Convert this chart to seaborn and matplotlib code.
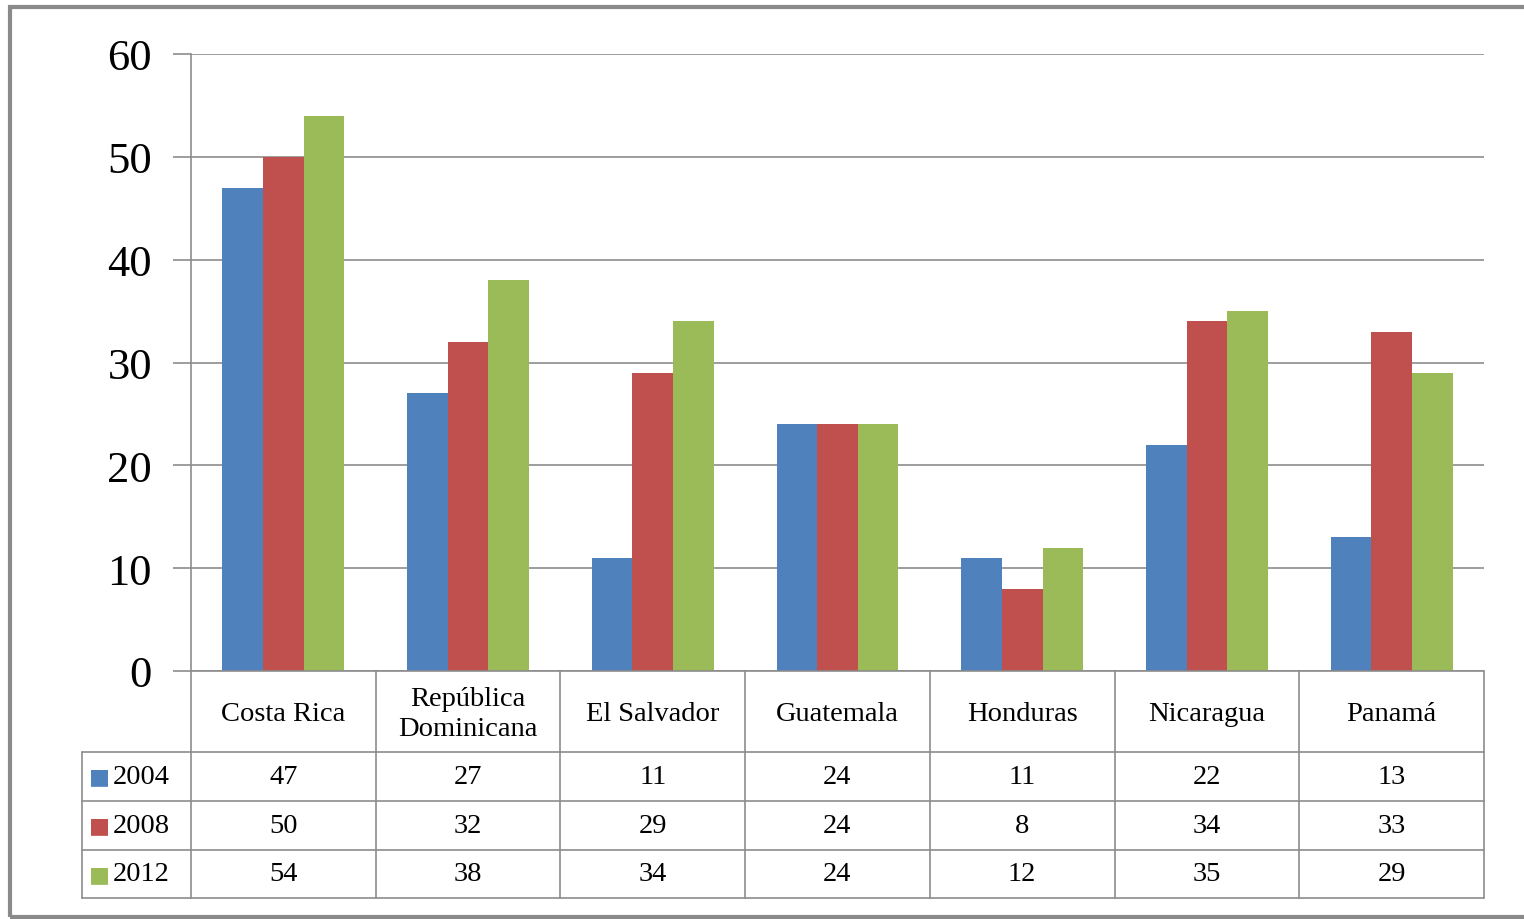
import matplotlib
matplotlib.use("Agg")
import matplotlib.pyplot as plt
import matplotlib.transforms as mtransforms
from matplotlib.patches import Rectangle
from matplotlib.lines import Line2D
import seaborn as sns
import pandas as pd

countries = ["Costa Rica", "República\nDominicana", "El Salvador", "Guatemala",
             "Honduras", "Nicaragua", "Panamá"]
years = ["2004", "2008", "2012"]
v2004 = [47, 27, 11, 24, 11, 22, 13]
v2008 = [50, 32, 29, 24, 8, 34, 33]
v2012 = [54, 38, 34, 24, 12, 35, 29]
yticks = [0, 10, 20, 30, 40, 50, 60]
colors = ["#4F81BD", "#C0504D", "#9BBB59"]

series = [v2004, v2008, v2012]
rows = []
for y, vals in zip(years, series):
    for c, v in zip(countries, vals):
        rows.append({"country": c, "year": y, "value": v})
df = pd.DataFrame(rows)

sns.set_theme(style="white")
plt.rcParams["font.family"] = ["Liberation Serif", "DejaVu Serif"]
plt.rcParams["text.color"] = "black"
plt.rcParams["ytick.labelcolor"] = "black"

W, H = 1524, 920
fig = plt.figure(figsize=(W / 100, H / 100), dpi=100)
x0, x1, ytop, ybot = 191, 1484, 55, 672
ax = fig.add_axes([x0 / W, 1 - ybot / H, (x1 - x0) / W, (ybot - ytop) / H])

sns.barplot(data=df, x="country", y="value", hue="year", palette=colors,
            width=0.66, saturation=1, ax=ax, legend=False, edgecolor="none")

ax.set_xlim(-0.5, len(countries) - 0.5)
ax.set_ylim(0, 60)
ax.set_yticks(yticks)
ax.set_yticklabels([str(t) for t in yticks], fontsize=32, color="black")
ax.set_xticks([])
ax.set_xlabel("")
ax.set_ylabel("")
gc = "#8C8C8C"
ax.grid(axis="y", color=gc, linewidth=1.2)
ax.set_axisbelow(True)
for s in ["top", "right", "bottom"]:
    ax.spines[s].set_visible(False)
ax.spines["left"].set_color(gc)
ax.spines["left"].set_linewidth(1.2)
ax.tick_params(axis="y", length=13, width=1.2, color=gc, pad=15, left=True)

# table below axis
ph = ybot - ytop
def yf(py):
    return (ybot - py) / ph

trans = mtransforms.blended_transform_factory(ax.transData, ax.transAxes)
unit = (x1 - x0) / len(countries)
legx = -0.5 - (x0 - 82) / unit
nlast = len(countries) - 0.5
row_edges = [672, 753, 802, 851, 899]
lw = 1.2
ax.add_line(Line2D([-0.5, nlast], [yf(672), yf(672)], transform=trans, color=gc, lw=lw, clip_on=False))
for py in row_edges[1:]:
    ax.add_line(Line2D([legx, nlast], [yf(py), yf(py)], transform=trans, color=gc, lw=lw, clip_on=False))
for i in range(len(countries) + 1):
    xv = i - 0.5
    ax.add_line(Line2D([xv, xv], [yf(672), yf(899)], transform=trans, color=gc, lw=lw, clip_on=False))
ax.add_line(Line2D([legx, legx], [yf(753), yf(899)], transform=trans, color=gc, lw=lw, clip_on=False))

fs = 20.5
for i, c in enumerate(countries):
    ax.text(i, yf((672 + 753) / 2 + 2), c, transform=trans, ha="center", va="center",
            fontsize=fs, linespacing=1.25, clip_on=False, color="black")
for r, (y, vals, col) in enumerate(zip(years, series, colors)):
    cy = yf((row_edges[r + 1] + row_edges[r + 2]) / 2)
    for i, v in enumerate(vals):
        ax.text(i, cy, str(v), transform=trans, ha="center", va="center", fontsize=fs,
                clip_on=False, color="black")
    ax.text(legx + 0.04, cy, "\u25A0", transform=trans, ha="left", va="center",
            fontsize=16, color=col, clip_on=False, family="DejaVu Sans")
    ax.text(legx + 0.165, cy, y, transform=trans, ha="left", va="center", fontsize=fs,
            clip_on=False, color="black")

fig.patches.append(Rectangle((10 / W, 1 - 918 / H), 1540 / W, 910 / H, transform=fig.transFigure,
                             fill=False, edgecolor="#8A8A8A", linewidth=3, clip_on=False))

fig.savefig("out.png", dpi=100)
